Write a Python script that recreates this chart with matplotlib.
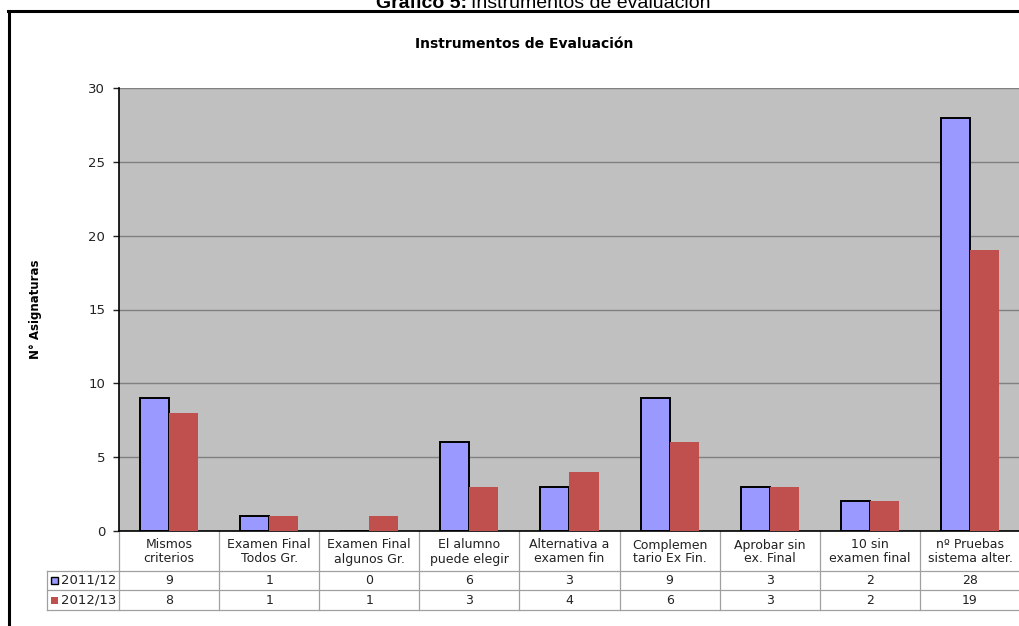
import matplotlib.pyplot as plt
from matplotlib.patches import Rectangle
from matplotlib.transforms import blended_transform_factory
import numpy as np

plt.rcParams['font.family'] = ['DejaVu Sans']

categories = ["Mismos\ncriterios", "Examen Final\nTodos Gr.", "Examen Final\nalgunos Gr.",
              "El alumno\npuede elegir", "Alternativa a\nexamen fin", "Complemen\ntario Ex Fin.",
              "Aprobar sin\nex. Final", "10 sin\nexamen final", "nº Pruebas\nsistema alter."]
series_names = ["2011/12", "2012/13"]
vals_2011 = [9, 1, 0, 6, 3, 9, 3, 2, 28]
vals_2012 = [8, 1, 1, 3, 4, 6, 3, 2, 19]

W, H = 1020, 626
fig = plt.figure(figsize=(W / 100, H / 100), dpi=100)

def fx(px):
    return px / W

def fy(py):
    return 1 - py / H

# page title (cut at top) and chart frame
fig.text(fx(467), fy(8), "Gráfico 5:", ha='right', va='baseline', fontsize=14,
         fontweight='bold', family=['Liberation Sans'])
fig.text(fx(471), fy(8), "Instrumentos de evaluación", ha='left', va='baseline', fontsize=14,
         family=['Liberation Sans'])
fig.add_artist(plt.Line2D([fx(8), 1], [fy(11), fy(11)], color='black', lw=2.2))
fig.add_artist(plt.Line2D([fx(9), fx(9)], [fy(11), 0], color='black', lw=2.2))

ax = fig.add_axes([fx(119), fy(531), fx(1020) - fx(119), fy(88) - fy(531)])
ax.set_facecolor('#C0C0C0')
x = np.arange(len(categories))
bw = 0.29
ax.bar(x - bw / 2, vals_2011, bw, color='#9999FF', edgecolor='black', linewidth=1.4, zorder=3)
ax.bar(x + bw / 2, vals_2012, bw, color='#C0504D', linewidth=0, zorder=3)
ax.set_xlim(-0.5, len(categories) - 0.5)
ax.set_ylim(0, 30)
ax.set_yticks(range(0, 31, 5))
ax.yaxis.grid(True, color='#808080', lw=1, zorder=1)
ax.set_xticks([])
for s in ['top', 'right']:
    ax.spines[s].set_visible(False)
ax.spines['left'].set_linewidth(1.2)
ax.spines['bottom'].set_linewidth(1.2)
ax.tick_params(axis='y', length=4, width=1, labelsize=9.5, pad=6, colors='#222222')
ax.set_ylabel("N° Asignaturas", fontsize=8.5, fontweight='bold')
ax.yaxis.set_label_coords((42 - 119) / 901, 0.5)
ax.set_title("Instrumentos de Evaluación", fontsize=10, fontweight='bold', pad=29, x=0.4495)

# data table under the plot
tr = blended_transform_factory(ax.transData, ax.transAxes)

def ay(py):
    return (531 - py) / 443

left_edge = -0.5 - 72 / 100.1
line_kw = dict(color='#A0A0A0', lw=0.9, transform=tr, clip_on=False)
for py in (571, 590, 610):
    ax.plot([left_edge, len(categories) - 0.5], [ay(py), ay(py)], **line_kw)
for xb in np.arange(-0.5, len(categories), 1.0):
    ax.plot([xb, xb], [ay(531), ay(610)], **line_kw)
ax.plot([left_edge, left_edge], [ay(571), ay(610)], **line_kw)

for i, c in enumerate(categories):
    ax.text(i, ay(552), c, ha='center', va='center', fontsize=9, transform=tr,
            linespacing=1.1, color='#222222')
rows = [(vals_2011, 580), (vals_2012, 600)]
for vals, py in rows:
    for i, v in enumerate(vals):
        ax.text(i, ay(py), str(v), ha='center', va='center', fontsize=9,
                transform=tr, color='#222222')

marker_x = left_edge + 4 / 100.1
ax.add_patch(Rectangle((marker_x, ay(584)), 7 / 100.1, 7 / 443, transform=tr,
                       facecolor='#9999FF', edgecolor='black', lw=1, clip_on=False))
ax.add_patch(Rectangle((marker_x, ay(604)), 7 / 100.1, 7 / 443, transform=tr,
                       facecolor='#C0504D', edgecolor='none', clip_on=False))
for name, py in zip(series_names, (580, 600)):
    ax.text(left_edge + 14 / 100.1, ay(py), name, ha='left', va='center', fontsize=9.5,
            transform=tr, color='#222222')

fig.savefig('out.png', dpi=100)
